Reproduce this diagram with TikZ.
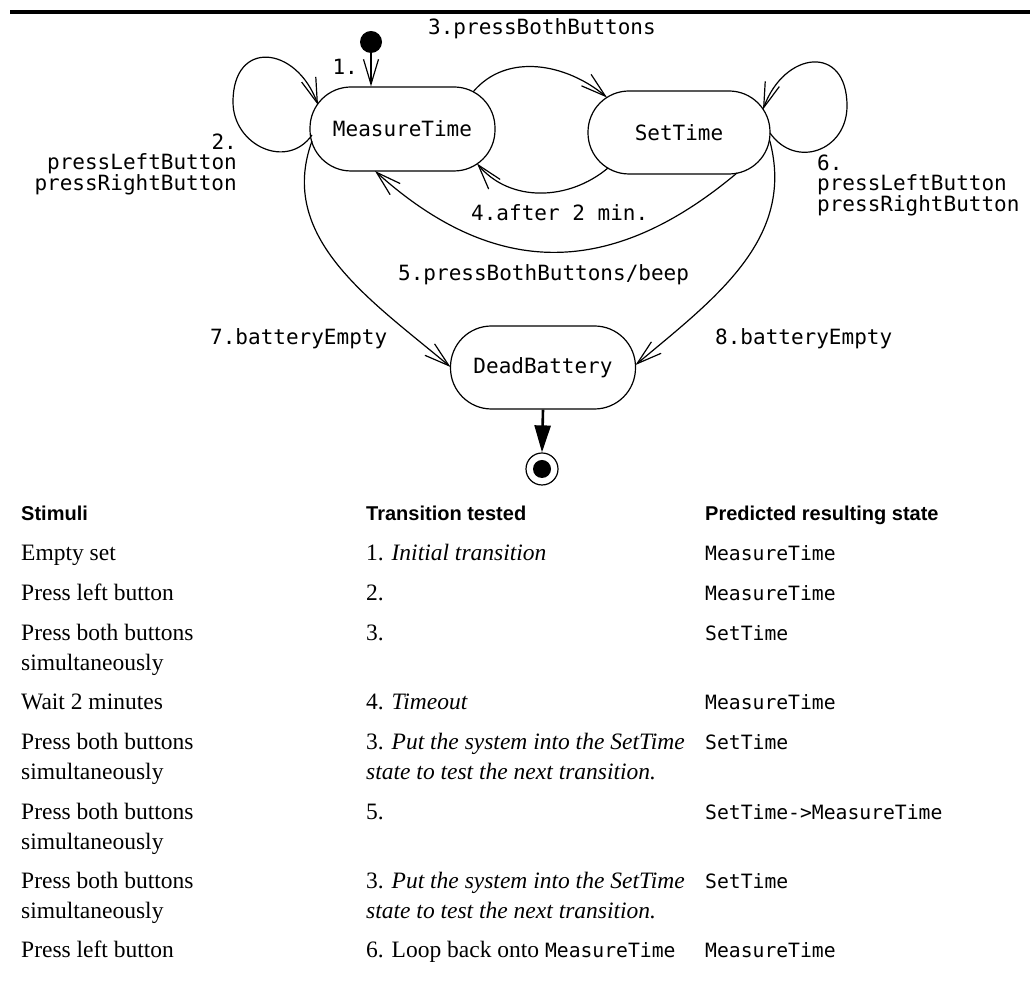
\documentclass[tikz,border=0pt]{standalone}
\usepackage{fontspec}
\setmainfont{Liberation Serif}
\newfontfamily\dgmmono{DejaVu Sans Mono}
\newfontfamily\hdrsans{Liberation Sans}
\usetikzlibrary{arrows.meta,calc}
\newcommand\dgmfont{\dgmmono\fontsize{21}{20.5}\selectfont}
\newcommand\tabfont{\rmfamily\fontsize{23.5}{30}\selectfont}
\newcommand\hdrfont{\hdrsans\bfseries\fontsize{20}{24}\selectfont}
\newcommand\tmono[1]{{\dgmmono\fontsize{19.7}{30}\selectfont #1}}
\begin{document}
\begin{tikzpicture}[x=1pt,y=1pt,
  state/.style={draw,line width=1.2pt,rectangle,rounded corners=41pt,minimum width=185pt,minimum height=84pt,inner sep=0pt,font=\dgmfont},
  trans/.style={line width=1.2pt,-{Straight Barb[length=25pt,width=15pt]}},
  lbl/.style={inner sep=0pt,font=\dgmfont},
  cell/.style={inner sep=0pt,anchor=base west,font=\tabfont},
  head/.style={inner sep=0pt,anchor=base west,font=\hdrfont}]
\useasboundingbox (0,0) rectangle (1030,987);
\coordinate (ruleL) at (10,975);
\coordinate (ruleR) at (1030,975);
\draw[line width=3.3pt] (ruleL) -- (ruleR);

% states
\node[state] (MT) at (402.5,858) {MeasureTime};
\node[state,minimum width=182pt,minimum height=83pt] (ST) at (679,854.5) {SetTime};
\node[state,minimum height=83pt] (DB) at (543,619.5) {DeadBattery};
\node[circle,fill,inner sep=0pt,minimum size=22pt] (init) at (371,945) {};
\node[circle,draw,line width=1.2pt,inner sep=0pt,minimum size=32pt] (fin) at (542,518) {};
\node[circle,fill,inner sep=0pt,minimum size=18pt] (finin) at (fin.center) {};

% transitions
\draw[trans] (init.south) -- (init.south |- MT.north);
\draw[trans] ($(MT.center)+(-90.5,-6)$) to[out=-125,in=-90,looseness=1.3] ($(MT.center)+(-169.5,27)$)
   to[out=90,in=110,looseness=1.9] ($(MT.center)+(-84.5,24)$);
\draw[trans] ($(MT.center)+(70.5,37)$) to[out=50,in=140] ($(ST.center)+(-72,35)$);
\draw[trans] ($(ST.center)+(-71,-35.5)$) to[out=-140,in=-50] ($(MT.center)+(74.5,-34.5)$);
\draw[trans] ($(ST.center)+(58,-40.5)$) to[out=-140,in=-42,looseness=1.15] ($(MT.center)+(-27.5,-42)$);
\draw[trans] ($(ST.center)+(91,-0.5)$) to[out=-55,in=-90,looseness=1.4] ($(ST.center)+(168,26.5)$)
   to[out=90,in=70,looseness=1.9] ($(ST.center)+(84,23)$);
\draw[trans] ($(MT.center)+(-90.5,-12)$) to[out=-110,in=140] ($(DB.center)+(-92.5,0.5)$);
\draw[trans] ($(ST.center)+(90.7,-8)$) to[out=-75,in=40] ($(DB.center)+(92.5,2.5)$);
\draw[line width=2.6pt,-{Triangle[length=27pt,width=16pt]}] (DB.south) -- (fin.north);

% transition labels
\node[lbl,anchor=base east] (l1) at (358,912.5) {1.};
\node[lbl,anchor=base east] (l2) at (237,837.5) {\begin{tabular}[t]{@{}r@{}}2.\\[-1.8pt]pressLeftButton\\[-1.8pt]pressRightButton\end{tabular}};
\node[lbl,anchor=base west] (l3) at (428,952.5) {3.pressBothButtons};
\node[lbl,anchor=base west] (l4) at (471,766.5) {4.after 2 min.};
\node[lbl,anchor=base west] (l5) at (398,706.5) {5.pressBothButtons/beep};
\node[lbl,anchor=base west] (l6) at (817,816.5) {\begin{tabular}[t]{@{}l@{}}6.\\[-1.8pt]pressLeftButton\\[-1.8pt]pressRightButton\end{tabular}};
\node[lbl,anchor=base west] (l7) at (210,642.5) {7.batteryEmpty};
\node[lbl,anchor=base west] (l8) at (715,642.5) {8.batteryEmpty};

% table
\node[head] (h1) at (21,466) {Stimuli};
\node[head] (h2) at (366,466) {Transition tested};
\node[head] (h3) at (705,466) {Predicted resulting state};

\node[cell] (a1) at (21,426) {Empty set};
\node[cell] (b1) at (366,426) {1. \textit{Initial transition}};
\node[cell] (c1) at (705,426) {\tmono{MeasureTime}};

\node[cell] (a2) at (21,386) {Press left button};
\node[cell] (b2) at (366,386) {2.};
\node[cell] (c2) at (705,386) {\tmono{MeasureTime}};

\node[cell] (a3) at (21,346) {\begin{tabular}[t]{@{}l@{}}Press both buttons\\simultaneously\end{tabular}};
\node[cell] (b3) at (366,346) {3.};
\node[cell] (c3) at (705,346) {\tmono{SetTime}};

\node[cell] (a4) at (21,277) {Wait 2 minutes};
\node[cell] (b4) at (366,277) {4. \textit{Timeout}};
\node[cell] (c4) at (705,277) {\tmono{MeasureTime}};

\node[cell] (a5) at (21,237) {\begin{tabular}[t]{@{}l@{}}Press both buttons\\simultaneously\end{tabular}};
\node[cell] (b5) at (366,237) {\begin{tabular}[t]{@{}l@{}}3. \textit{Put the system into the SetTime}\\\textit{state to test the next transition.}\end{tabular}};
\node[cell] (c5) at (705,237) {\tmono{SetTime}};

\node[cell] (a6) at (21,167) {\begin{tabular}[t]{@{}l@{}}Press both buttons\\simultaneously\end{tabular}};
\node[cell] (b6) at (366,167) {5.};
\node[cell] (c6) at (705,167) {\tmono{SetTime->MeasureTime}};

\node[cell] (a7) at (21,98) {\begin{tabular}[t]{@{}l@{}}Press both buttons\\simultaneously\end{tabular}};
\node[cell] (b7) at (366,98) {\begin{tabular}[t]{@{}l@{}}3. \textit{Put the system into the SetTime}\\\textit{state to test the next transition.}\end{tabular}};
\node[cell] (c7) at (705,98) {\tmono{SetTime}};

\node[cell] (a8) at (21,29) {Press left button};
\node[cell] (b8) at (366,29) {6. Loop back onto \tmono{MeasureTime}};
\node[cell] (c8) at (705,29) {\tmono{MeasureTime}};
\end{tikzpicture}
\end{document}
